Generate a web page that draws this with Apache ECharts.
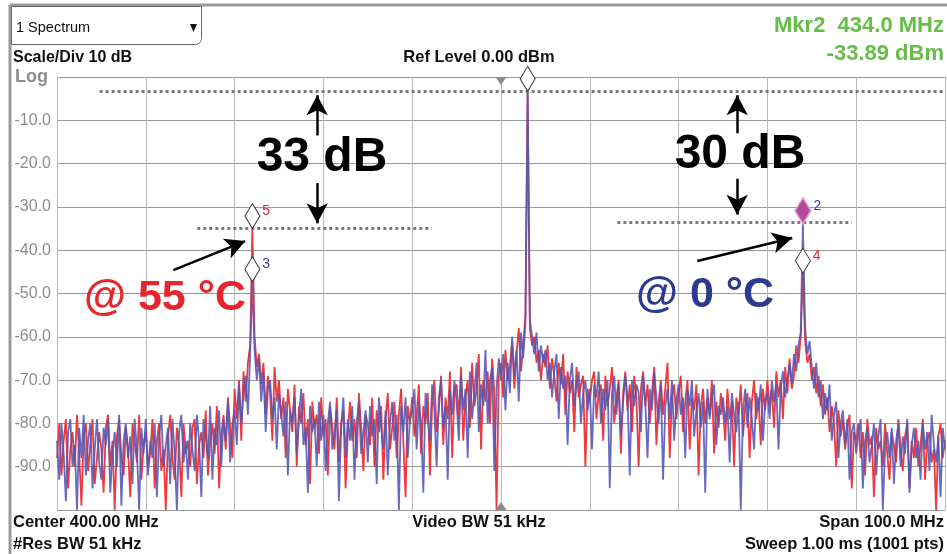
<!DOCTYPE html>
<html>
<head>
<meta charset="utf-8">
<script src="https://cdn.jsdelivr.net/npm/echarts@6/dist/echarts.min.js"></script>
<style>
  html, body { margin: 0; padding: 0; background: #fff; }
  #chart { width: 947px; height: 554px; }
</style>
</head>
<body>
<div id="chart"></div>
<script>
// sweep: 350 .. 450 MHz, one reading every 0.25 MHz
const startMHz = 350
const stepMHz = 0.25

// trace at 55 °C (red), dBm
const redTrace = [
  -88,-80,-92,-84,-79,-95,-86,-82,-90,-78,-87,-99,-83,-80,-91,-85,-79,-94,-88,-82,
  -86,-96,-81,-78,-90,-84,-100,-83,-79,-88,-92,-81,-86,-97,-80,-84,-89,-78,-93,-85,
  -82,-90,-87,-79,-95,-84,-80,-91,-86,-100,-83,-78,-88,-93,-81,-85,-97,-80,-87,-84,
  -90,-81,-79,-94,-85,-82,-88,-77,-92,-84,-80,-87,-76,-95,-83,-78,-86,-74,-81,-88,
  -72,-79,-70,-84,-68,-75,-66,-62,-35,-60,-67,-64,-71,-66,-78,-69,-73,-84,-67,-75,
  -70,-79,-74,-88,-72,-77,-82,-71,-90,-76,-80,-73,-85,-79,-94,-75,-81,-78,-87,-74,
  -83,-79,-92,-76,-81,-86,-74,-89,-80,-77,-95,-82,-75,-84,-79,-88,-73,-81,-91,-78,
  -80,-85,-74,-90,-77,-82,-76,-93,-79,-73,-86,-81,-75,-88,-78,-72,-84,-97,-76,-80,
  -74,-83,-78,-71,-87,-76,-80,-73,-92,-75,-70,-82,-77,-69,-85,-74,-79,-68,-88,-73,
  -71,-79,-67,-84,-74,-70,-81,-66,-76,-72,-64,-86,-70,-75,-68,-80,-65,-73,-100,-69,
  -66,-74,-63,-70,-67,-61,-72,-64,-58,-68,-62,-55,-3.3,-58,-62,-60,-66,-63,-70,-64,
  -67,-62,-72,-65,-69,-75,-66,-71,-64,-78,-68,-73,-70,-82,-67,-74,-71,-69,-90,-72,
  -75,-70,-68,-79,-73,-71,-84,-69,-76,-72,-67,-80,-74,-70,-87,-73,-68,-77,-71,-82,
  -69,-74,-90,-72,-68,-76,-71,-80,-73,-67,-85,-75,-70,-78,-72,-66,-88,-74,-71,-79,
  -73,-69,-82,-75,-70,-86,-74,-77,-71,-92,-76,-72,-80,-74,-78,-70,-87,-75,-81,-73,
  -77,-84,-72,-79,-75,-90,-74,-78,-71,-83,-76,-73,-88,-75,-70,-79,-74,-85,-72,-77,
  -70,-76,-72,-81,-68,-74,-70,-79,-67,-73,-65,-72,-69,-62,-66,-60,-45.3,-61,-66,-64,
  -70,-67,-73,-69,-76,-71,-78,-74,-82,-76,-80,-90,-77,-83,-79,-86,-81,-78,-95,-82,
  -84,-80,-88,-82,-92,-79,-85,-83,-97,-81,-86,-84,-90,-80,-87,-93,-82,-85,-89,-79,
  -86,-91,-83,-80,-95,-84,-88,-81,-90,-85,-79,-93,-84,-82,-89,-86,-100,-83,-80,-88,-84
]

// trace at 0 °C (blue), dBm
const blueTrace = [
  -84,-93,-80,-87,-98,-82,-79,-90,-85,-100,-81,-88,-78,-92,-84,-80,-95,-86,-79,-89,
  -93,-81,-85,-79,-96,-87,-82,-90,-78,-99,-84,-80,-88,-83,-94,-79,-86,-100,-81,-87,
  -79,-92,-84,-88,-80,-97,-83,-78,-90,-85,-81,-94,-79,-87,-100,-82,-78,-89,-84,-93,
  -80,-86,-91,-78,-84,-97,-79,-83,-88,-76,-93,-81,-85,-77,-90,-79,-84,-75,-89,-80,
  -77,-85,-71,-80,-73,-69,-78,-64,-47.3,-63,-70,-65,-75,-68,-82,-72,-70,-79,-74,-86,
  -73,-78,-83,-75,-92,-77,-80,-74,-87,-79,-72,-85,-81,-96,-76,-82,-79,-90,-75,-84,
  -78,-91,-80,-75,-86,-82,-77,-98,-81,-74,-88,-79,-84,-76,-93,-80,-75,-87,-82,-77,
  -89,-76,-83,-79,-94,-74,-81,-86,-77,-92,-80,-75,-84,-78,-100,-76,-82,-74,-88,-79,
  -77,-72,-86,-75,-80,-96,-73,-79,-84,-71,-77,-90,-74,-70,-81,-76,-93,-72,-78,-70,
  -75,-84,-69,-77,-72,-88,-68,-79,-73,-66,-82,-71,-76,-63,-80,-70,-67,-91,-72,-65,
  -70,-64,-77,-66,-73,-60,-69,-63,-75,-59,-65,-57,-3.3,-56,-60,-64,-59,-68,-62,-66,
  -63,-70,-66,-74,-68,-64,-79,-67,-72,-69,-85,-70,-66,-76,-71,-68,-80,-73,-70,-77,
  -72,-86,-71,-74,-68,-80,-72,-77,-70,-95,-73,-69,-78,-71,-83,-75,-69,-74,-92,-70,
  -76,-71,-73,-82,-69,-75,-88,-72,-77,-68,-74,-80,-71,-93,-76,-72,-79,-70,-84,-75,
  -71,-78,-74,-88,-72,-76,-70,-83,-77,-73,-81,-75,-96,-72,-79,-74,-71,-85,-76,-78,
  -74,-80,-76,-89,-73,-78,-82,-75,-100,-77,-72,-81,-74,-79,-86,-73,-77,-71,-84,-75,
  -73,-79,-70,-75,-71,-86,-72,-68,-74,-70,-66,-71,-64,-68,-62,-59,-33.9,-58,-64,-61,
  -67,-72,-66,-74,-70,-79,-73,-77,-71,-84,-78,-75,-88,-80,-77,-85,-79,-93,-82,-80,
  -87,-82,-79,-95,-84,-81,-89,-85,-80,-92,-83,-79,-100,-86,-82,-88,-81,-94,-84,-80,
  -90,-83,-87,-79,-96,-85,-81,-88,-84,-93,-80,-86,-82,-91,-78,-85,-89,-83,-97,-81,-86
]

// markers: [label, MHz, dBm, label colour, filled]
const markers = [
  ['5', 372, -35, '#e8252b', false],
  ['3', 372, -47.3, '#3a3f9e', false],
  ['2', 434, -33.9, '#3a3f9e', true],
  ['4', 434, -45.3, '#e8252b', false],
  ['', 403, -3.3, '#3a3f9e', false]
]

// dotted reference levels: [from MHz, to MHz, dBm]
const refLevels = [
  [354.8, 450, -3.2],
  [365.8, 392.2, -35],
  [413.1, 439.5, -33.5]
]

// arrows: [from MHz, from dBm, to MHz, to dBm]
const arrows = [
  [379.3, -13.5, 379.3, -4.2],
  [379.3, -24.5, 379.3, -33.8],
  [426.6, -13, 426.6, -4.2],
  [426.6, -23.5, 426.6, -31.8],
  [363.1, -44.6, 371.2, -37.9],
  [422.1, -42.5, 432.8, -37.2]
]

const toPoints = arr => arr.map((v, i) => [startMHz + i * stepMHz, v])

const chart = echarts.init(document.getElementById('chart'))

const boldText = (x, y, text, size, color, align) => ({
  type: 'text', x, y, z: 50,
  style: { text, fontSize: size, fontWeight: 'bold', fill: color || '#111',
           fontFamily: 'Liberation Sans, Arial, sans-serif', align: align || 'left', verticalAlign: 'middle' }
})

chart.setOption({
  animation: false,
  grid: { left: 57, right: 2, top: 77, bottom: 44 },
  xAxis: {
    type: 'value', min: 350, max: 450, interval: 10,
    axisLabel: { show: false }, axisTick: { show: false },
    axisLine: { show: false },
    splitLine: { lineStyle: { color: '#b8b8b8', width: 1 } }
  },
  yAxis: {
    type: 'value', min: -100, max: 0, interval: 10,
    axisLine: { show: false }, axisTick: { show: false },
    axisLabel: {
      color: '#8c8c8c', fontSize: 16, margin: 6,
      fontFamily: 'Liberation Sans, Arial, sans-serif',
      formatter: v => (v === 0 || v === -100) ? '' : v.toFixed(1)
    },
    splitLine: { lineStyle: { color: '#9a9a9a', width: 1 } }
  },
  series: [
    {
      name: '55 °C', type: 'line', data: toPoints(redTrace),
      showSymbol: false, sampling: 'none', z: 2,
      lineStyle: { color: '#ee3a3e', width: 1.8 }
    },
    {
      name: '0 °C', type: 'line', data: toPoints(blueTrace),
      showSymbol: false, sampling: 'none', z: 3,
      lineStyle: { color: '#5357b4', width: 1.8, opacity: 0.88 },
      markLine: {
        silent: true, symbol: 'none', animation: false,
        label: { show: false },
        data: [
          ...refLevels.map(r => [
            { coord: [r[0], r[2]], lineStyle: { color: '#7a7a7a', width: 3, type: [3, 3], opacity: 1 } },
            { coord: [r[1], r[2]] }
          ]),
          ...arrows.map(a => [
            { coord: [a[0], a[1]], symbol: 'none', lineStyle: { color: '#000', width: 2.5, type: 'solid', opacity: 1 } },
            { coord: [a[2], a[3]], symbol: 'arrow', symbolSize: [16, 20] }
          ])
        ]
      },
      markPoint: {
        silent: true, animation: false,
        data: [
          ...markers.map(m => ({
            coord: [m[1], m[2]], symbol: 'diamond', symbolSize: m[4] ? [16, 26] : [15, 25],
            symbolOffset: [0, '-50%'],
            itemStyle: m[4]
              ? { color: '#b24a9e', borderColor: '#e0a6d6', borderWidth: 1.5 }
              : { color: '#fff', borderColor: '#333', borderWidth: 1 },
            label: {
              show: true, formatter: m[0], position: 'right', distance: 2,
              color: m[3], fontSize: 14, offset: [0, -5],
              fontFamily: 'Liberation Sans, Arial, sans-serif'
            }
          })),
          { coord: [400, 0], symbol: 'triangle', symbolRotate: 180, symbolSize: [11, 8],
            symbolOffset: [0, 4], itemStyle: { color: '#8a8a8a' }, label: { show: false } },
          { coord: [400, -100], symbol: 'triangle', symbolSize: [11, 8],
            symbolOffset: [0, -4], itemStyle: { color: '#8a8a8a' }, label: { show: false } }
        ]
      }
    }
  ],
  graphic: [
    // instrument frame
    { type: 'line', z: 40, shape: { x1: 10, y1: 5, x2: 947, y2: 5 }, style: { stroke: '#9a9a9a', lineWidth: 3 } },
    { type: 'line', z: 40, shape: { x1: 10, y1: 5, x2: 10, y2: 554 }, style: { stroke: '#9a9a9a', lineWidth: 3 } },
    { type: 'rect', z: 40, shape: { x: 11.5, y: 6.5, width: 190, height: 38, r: [0, 0, 6, 0] },
      style: { fill: '#fff', stroke: '#666', lineWidth: 1 } },
    { type: 'text', z: 41, x: 16, y: 28,
      style: { text: '1 Spectrum', fontSize: 14.5, fill: '#111', fontFamily: 'Liberation Sans, Arial, sans-serif', verticalAlign: 'middle' } },
    { type: 'polygon', z: 41, shape: { points: [[190, 24], [197, 24], [193.5, 32]] }, style: { fill: '#111' } },
    boldText(13, 58, 'Scale/Div 10 dB', 16),
    boldText(15, 77, 'Log', 18, '#8c8c8c'),
    boldText(479, 57, 'Ref Level 0.00 dBm', 16.5, '#111', 'center'),
    boldText(944, 26, 'Mkr2  434.0 MHz', 22, '#66bd47', 'right'),
    boldText(944, 54, '-33.89 dBm', 22, '#66bd47', 'right'),
    boldText(13, 522, 'Center 400.00 MHz', 16.5),
    boldText(13, 544, '#Res BW 51 kHz', 16.5),
    boldText(479, 522, 'Video BW 51 kHz', 16.5, '#111', 'center'),
    boldText(944, 522, 'Span 100.0 MHz', 16.5, '#111', 'right'),
    boldText(944, 544, 'Sweep 1.00 ms (1001 pts)', 16.5, '#111', 'right'),
    // annotations
    boldText(322, 158, '33 dB', 48, '#000', 'center'),
    boldText(740, 155, '30 dB', 48, '#000', 'center'),
    boldText(165, 298, '@ 55 °C', 43, '#e8252b', 'center'),
    boldText(705, 295, '@ 0 °C', 43, '#2b3990', 'center')
  ]
})
</script>
</body>
</html>
